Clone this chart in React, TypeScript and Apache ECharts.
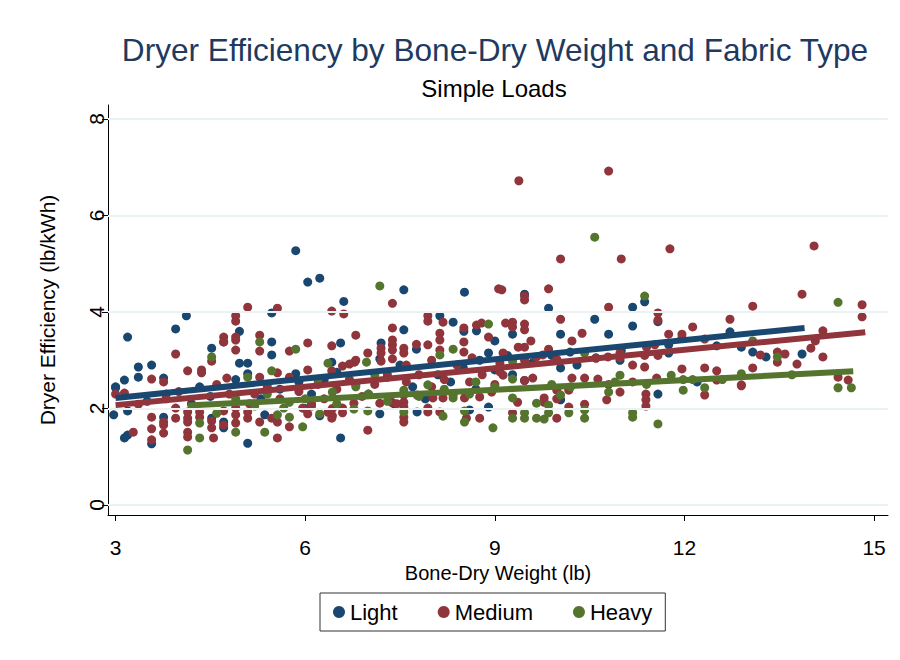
import React, { useEffect, useRef } from "react";
import * as echarts from "echarts";

const seriesNames = ["Light", "Medium", "Heavy"];
const seriesColors = ["#1a476f", "#90353b", "#55752f"];
const xTicks = [3, 6, 9, 12, 15];
const yTicks = [0, 2, 4, 6, 8];

const lightPts: number[][] = [
  [5.85, 5.27], [6.04, 4.62], [6.23, 4.7], [6.61, 4.22], [7.56, 4.46], [8.52, 4.41], [9.47, 4.37],
  [5.47, 3.98], [4.12, 3.92], [3.95, 3.65], [3.19, 3.48], [4.71, 3.38], [4.96, 3.6], [5.47, 3.38],
  [4.52, 3.25], [5.47, 3.11], [4.96, 2.94], [5.09, 2.94], [3.36, 2.86], [3.57, 2.9], [5.09, 2.72],
  [5.85, 2.72], [3.36, 2.65], [3.76, 2.63], [3.14, 2.59], [3.0, 2.45], [4.33, 2.45],
  [8.13, 3.92], [8.34, 3.79], [8.51, 3.6], [8.71, 3.61], [7.56, 3.63], [6.56, 3.36], [7.2, 3.36],
  [7.76, 3.23], [8.9, 3.15], [7.18, 3.03], [8.76, 3.0], [6.42, 2.96],
  [3.0, 2.43], [2.97, 1.87], [3.19, 1.95], [3.57, 1.27], [3.14, 1.39], [3.19, 1.45], [3.76, 1.82],
  [4.52, 1.8], [4.71, 1.72], [4.71, 1.6], [5.09, 1.28], [5.36, 1.87],
  [6.56, 1.39], [7.18, 1.89], [6.23, 1.85], [7.77, 1.93], [8.9, 2.03], [8.6, 1.97],
  [10.04, 2.18], [11.58, 2.3],
  [12.72, 3.59], [12.51, 3.3], [12.9, 3.27], [13.08, 3.17], [13.29, 3.07], [13.86, 3.13],
  [9.85, 4.08], [11.18, 4.1], [11.37, 4.21], [11.58, 3.8], [9.28, 3.54], [10.58, 3.85], [11.18, 3.71],
  [10.04, 3.54], [10.8, 3.54], [10.19, 3.17], [11.75, 3.32], [11.75, 3.15], [10.98, 3.0], [10.04, 2.84],
  [9.28, 2.7], [9.47, 2.58],
  [5.6, 2.4], [5.9, 2.55], [6.1, 2.3], [6.3, 2.6], [6.5, 2.75], [6.8, 2.5], [7.0, 2.3], [7.3, 2.65],
  [7.5, 2.9], [7.7, 2.45], [7.9, 2.2], [8.1, 2.7], [8.3, 2.55], [8.5, 2.85], [8.7, 2.4], [9.0, 2.8],
  [9.2, 3.1], [9.6, 2.95], [9.9, 3.1], [10.3, 2.9], [10.6, 3.05], [11.0, 3.2], [5.3, 2.2], [4.5, 2.25],
  [4.2, 2.1], [3.8, 2.3], [3.5, 2.15], [4.9, 2.6], [6.0, 2.0], [7.4, 2.1], [9.0, 3.4], [12.2, 2.55]
];

const mediumPts: number[][] = [
  [5.09, 4.1], [5.56, 4.08], [4.9, 3.92], [4.9, 3.81], [4.71, 3.48], [4.71, 3.38], [4.9, 3.48], [4.9, 3.42],
  [5.28, 3.52], [4.9, 3.21], [5.28, 3.19], [5.75, 3.19], [3.95, 3.13], [4.52, 2.98], [4.14, 2.78],
  [4.36, 2.8], [4.36, 2.74], [5.56, 2.74], [4.76, 2.63], [5.28, 2.65], [5.75, 2.65], [3.57, 2.61], [3.76, 2.55],
  [7.38, 4.18], [6.42, 4.02], [6.61, 3.96], [7.94, 3.92], [7.94, 3.81], [8.18, 3.79], [8.51, 3.67],
  [8.71, 3.73], [8.79, 3.77], [7.38, 3.67], [8.13, 3.56], [8.13, 3.42], [6.8, 3.52], [8.9, 3.48],
  [6.04, 3.36], [6.42, 3.3], [7.38, 3.42], [7.38, 3.32], [7.38, 3.21], [7.2, 3.25], [7.2, 3.15],
  [7.76, 3.33], [7.94, 3.32], [8.13, 3.21], [8.51, 3.38], [8.51, 3.17], [7.56, 3.25], [7.56, 3.15],
  [6.99, 3.15], [6.8, 3.0], [7.38, 3.03], [7.2, 2.98], [8.64, 3.05], [6.59, 2.88], [6.7, 2.92],
  [6.78, 2.96], [6.42, 2.78], [6.04, 2.8],
  [9.06, 4.48], [9.38, 6.72], [10.8, 6.92], [10.04, 5.1], [11.0, 5.1], [11.77, 5.31], [9.11, 4.46],
  [9.47, 4.33], [9.85, 4.48], [14.05, 5.37], [13.86, 4.37],
  [3.0, 2.3], [3.14, 2.32], [3.36, 2.09], [3.57, 1.82], [3.57, 1.58], [3.57, 1.35], [3.28, 1.51],
  [3.76, 1.72], [3.76, 1.66], [3.76, 1.49], [3.95, 1.8], [3.95, 2.01], [4.14, 1.93], [4.14, 1.8],
  [4.14, 1.72], [4.14, 1.51], [4.14, 1.41], [4.33, 1.93], [4.33, 1.82], [4.52, 1.74], [4.52, 1.6],
  [4.55, 1.39], [4.71, 1.95], [4.71, 1.66], [4.9, 2.01], [4.9, 1.87], [4.9, 1.7], [5.09, 1.8],
  [5.09, 1.93], [5.28, 1.72], [5.56, 1.39], [5.47, 1.8], [5.56, 1.72], [5.75, 1.62], [5.12, 2.1],
  [6.99, 1.55], [7.18, 2.11], [6.77, 2.11], [6.59, 2.01], [6.59, 1.91], [6.43, 2.0], [6.43, 1.85],
  [6.36, 1.92], [6.42, 1.8], [6.04, 1.89], [5.96, 2.01], [6.1, 2.1], [6.1, 2.05], [7.56, 2.28],
  [7.56, 2.13], [7.56, 2.03], [7.56, 1.82], [7.56, 1.72], [7.37, 2.13], [7.77, 2.28], [7.94, 2.01],
  [7.94, 1.93], [8.13, 1.93], [8.02, 2.22], [8.18, 2.22], [8.34, 2.28], [8.52, 2.22], [8.55, 1.8],
  [8.76, 1.8], [8.95, 2.34], [8.76, 2.24], [7.45, 2.1],
  [9.36, 2.13], [9.28, 1.91], [9.78, 2.22], [9.78, 2.13], [9.98, 1.8], [9.98, 2.38], [9.98, 2.2],
  [10.17, 2.38], [10.17, 2.03], [10.42, 2.09], [10.77, 2.18], [10.98, 2.34], [11.39, 2.3],
  [11.39, 2.18], [11.39, 2.05], [12.32, 2.28], [12.9, 2.47],
  [13.08, 4.12], [14.81, 4.15], [14.81, 3.9], [12.72, 3.85], [12.32, 3.44], [13.2, 3.11], [13.47, 3.17],
  [13.59, 3.13], [13.47, 2.96], [13.78, 2.92], [14.0, 3.25], [14.07, 3.4], [14.19, 3.61], [14.19, 3.07],
  [12.32, 2.84], [12.51, 2.78], [12.51, 2.59], [12.9, 2.49], [13.08, 2.84], [14.43, 2.65], [14.59, 2.59],
  [9.47, 4.25], [10.8, 4.1], [11.58, 3.98], [11.58, 3.83], [9.17, 3.77], [9.28, 3.79], [9.28, 3.69],
  [9.47, 3.75], [9.47, 3.63], [10.04, 3.85], [10.38, 3.56], [10.22, 3.4], [9.57, 3.4], [11.75, 3.54],
  [11.96, 3.54], [11.96, 3.46], [12.13, 3.69], [9.37, 3.27], [9.47, 3.27], [9.85, 3.23], [11.4, 3.27],
  [11.53, 3.32], [10.79, 3.07], [10.98, 3.15], [10.98, 3.05], [11.37, 3.1], [11.58, 3.1], [9.13, 3.15],
  [9.08, 2.94], [9.08, 2.76], [9.47, 3.0], [9.66, 3.07], [9.76, 3.11], [9.98, 3.02], [11.18, 2.9],
  [11.37, 2.86], [10.6, 3.04], [11.96, 2.82], [9.13, 2.69], [9.47, 2.58], [9.6, 2.63], [10.22, 2.63],
  [10.42, 2.63], [10.63, 2.61], [11.56, 2.63], [10.8, 2.5], [11.18, 2.55],
  [5.2, 2.3], [5.4, 2.45], [5.6, 2.2], [5.9, 2.35], [6.2, 2.5], [6.5, 2.4], [6.7, 2.6], [6.9, 2.25],
  [7.1, 2.5], [7.3, 2.7], [7.6, 2.55], [7.8, 2.7], [8.0, 2.45], [8.2, 2.6], [8.4, 2.9], [8.6, 2.55],
  [8.8, 2.7], [9.0, 2.5], [7.6, 2.9], [8.0, 3.0], [6.3, 2.2], [4.8, 2.3], [4.6, 2.5], [4.0, 2.35], [3.8, 2.2]
];

const heavyPts: number[][] = [
  [7.18, 4.54], [10.58, 5.55], [11.37, 4.33], [14.43, 4.2],
  [5.28, 3.38], [5.85, 3.23], [4.52, 3.07], [5.47, 2.78], [5.09, 2.65], [8.9, 3.75], [8.34, 3.23],
  [6.97, 2.96], [8.13, 3.11], [6.36, 2.94],
  [4.14, 1.14], [4.33, 1.7], [4.33, 1.39], [4.9, 1.51], [5.36, 1.51], [5.56, 1.87], [5.66, 2.01],
  [5.75, 2.13], [5.75, 1.82], [5.96, 1.62], [6.99, 1.95], [6.77, 1.99], [6.23, 1.89], [6.43, 2.34],
  [7.56, 2.38], [7.56, 1.93], [7.94, 2.49], [8.18, 1.84], [8.34, 2.22], [8.52, 1.95], [8.52, 1.72],
  [8.97, 1.6], [9.28, 2.22], [9.28, 1.8], [9.47, 1.91], [9.47, 1.8], [9.66, 2.11], [9.66, 1.8],
  [9.78, 1.78], [9.85, 2.07], [9.85, 1.91], [10.04, 2.28], [10.17, 1.91], [10.42, 1.97], [10.42, 1.8],
  [10.8, 2.34], [11.18, 1.91], [11.18, 1.82], [11.58, 1.68], [11.98, 2.38],
  [12.32, 2.43], [14.43, 2.43], [14.64, 2.43], [12.9, 2.72], [13.08, 3.4], [13.47, 3.07],
  [10.42, 3.15], [9.28, 2.98], [10.98, 2.69], [11.79, 2.69], [9.28, 2.61], [11.98, 2.6], [12.13, 2.6],
  [6.0, 2.2], [6.5, 2.1], [7.0, 2.3], [7.3, 2.15], [7.8, 2.25], [8.2, 2.4], [8.6, 2.3], [9.0, 2.45],
  [5.2, 2.05], [4.6, 1.9], [5.4, 2.3], [6.2, 2.6], [7.1, 2.7], [8.7, 2.55], [9.9, 2.5], [10.9, 2.55],
  [11.4, 2.5], [12.6, 2.6], [13.7, 2.7], [4.9, 2.2], [10.2, 2.45], [6.8, 2.45]
];

const lightFit: number[][] = [[3, 2.22], [13.9, 3.67]];
const mediumFit: number[][] = [[3, 2.07], [14.86, 3.58]];
const heavyFit: number[][] = [[4.14, 2.06], [14.67, 2.77]];

const FONT = '"Liberation Sans", Arial, Helvetica, sans-serif';

export default function App() {
  const ref = useRef<HTMLDivElement>(null);
  useEffect(() => {
    if (!ref.current) return;
    const chart = echarts.init(ref.current, undefined, { renderer: "svg" });
    const pts = [lightPts, mediumPts, heavyPts];
    const fits = [lightFit, mediumFit, heavyFit];
    const scatterSeries = seriesNames.map((name, i) => ({
      name,
      type: "scatter",
      data: pts[i],
      symbol: "circle",
      symbolSize: 9,
      itemStyle: { color: seriesColors[i], opacity: 1 },
      z: 2,
    }));
    const fitSeries = seriesNames.map((name, i) => ({
      name: name + " fit",
      type: "line",
      data: fits[i],
      showSymbol: false,
      symbol: "none",
      lineStyle: { color: seriesColors[i], width: 6 },
      z: 3,
    }));
    const gridSeries = {
      name: "grid",
      type: "line",
      data: [],
      silent: true,
      z: 1,
      markLine: {
        silent: true,
        symbol: "none",
        label: { show: false },
        lineStyle: { color: "#eaf2f3", width: 2, type: "solid" },
        data: yTicks.map((v) => ({ yAxis: v })),
      },
    };
    chart.setOption({
      animation: false,
      backgroundColor: "#ffffff",
      textStyle: { fontFamily: FONT },
      graphic: [
        {
          type: "text",
          x: 495,
          y: 50,
          style: {
            text: "Dryer Efficiency by Bone-Dry Weight and Fabric Type",
            fill: "#1e3a5f",
            font: `31.6px ${FONT}`,
            align: "center",
            verticalAlign: "middle",
            textAlign: "center",
            textVerticalAlign: "middle",
          },
        },
        {
          type: "text",
          x: 494,
          y: 88,
          style: {
            text: "Simple Loads",
            fill: "#000000",
            font: `24px ${FONT}`,
            align: "center",
            verticalAlign: "middle",
            textAlign: "center",
            textVerticalAlign: "middle",
          },
        },
      ],
      legend: {
        data: seriesNames,
        icon: "circle",
        itemWidth: 12,
        itemHeight: 12,
        itemGap: 40,
        left: 320,
        top: 593,
        padding: [8, 13],
        borderColor: "#333333",
        borderWidth: 1,
        textStyle: { fontSize: 22, color: "#000000", fontFamily: FONT },
      },
      grid: { left: 108, right: 12, top: 105, bottom: 145, containLabel: false },
      xAxis: {
        type: "value",
        min: 2.88,
        max: 15.22,
        name: "Bone-Dry Weight (lb)",
        nameLocation: "middle",
        nameGap: 42,
        nameTextStyle: { fontSize: 20, color: "#000000", fontFamily: FONT },
        axisLine: { show: true, onZero: false, lineStyle: { color: "#000000", width: 1 } },
        axisTick: { show: true, customValues: xTicks, length: 6, lineStyle: { color: "#000000" } },
        axisLabel: { customValues: xTicks, fontSize: 21, color: "#000000", margin: 22, fontFamily: FONT },
        splitLine: { show: false },
      },
      yAxis: {
        type: "value",
        min: -0.207,
        max: 8.29,
        name: "Dryer Efficiency (lb/kWh)",
        nameLocation: "middle",
        nameRotate: 90,
        nameGap: 50,
        nameTextStyle: { fontSize: 21, color: "#000000", fontFamily: FONT },
        axisLine: { show: true, onZero: false, lineStyle: { color: "#000000", width: 1 } },
        axisTick: { show: true, customValues: yTicks, length: 6, lineStyle: { color: "#000000" } },
        axisLabel: { customValues: yTicks, rotate: 90, fontSize: 21, color: "#000000", margin: 1, fontFamily: FONT },
        splitLine: { show: false },
      },
      series: [gridSeries, ...scatterSeries, ...fitSeries],
    });
    return () => chart.dispose();
  }, []);
  return (
    <div
      ref={ref}
      style={{ position: "absolute", left: 0, top: 0, width: 900, height: 660, background: "#ffffff" }}
    />
  );
}
